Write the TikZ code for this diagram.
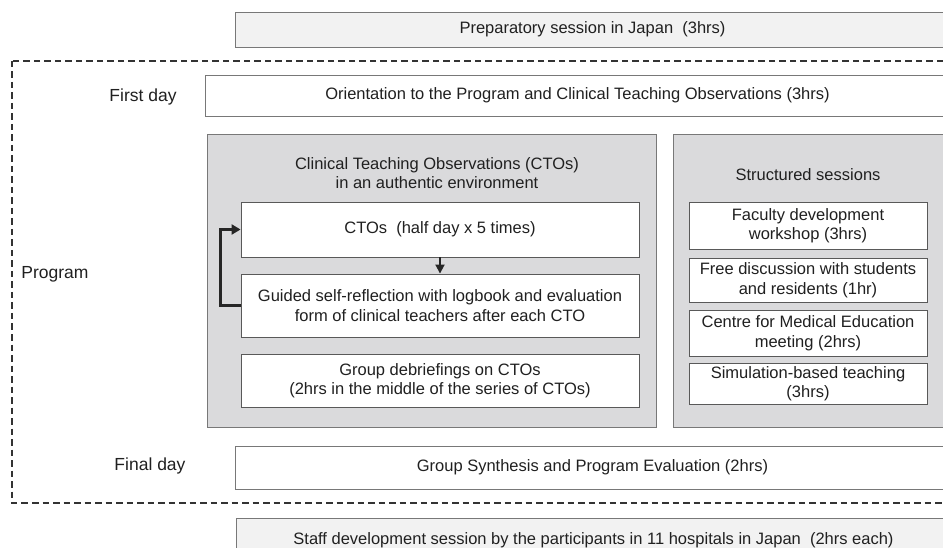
\documentclass[tikz,border=0pt]{standalone}
\usepackage{fontspec}
\setmainfont{Liberation Sans}
\usepackage{tikz}
\usetikzlibrary{arrows.meta}
\definecolor{boxline}{RGB}{120,120,120}
\definecolor{panelgray}{RGB}{218,218,220}
\definecolor{paleink}{RGB}{242,242,242}
\definecolor{textink}{RGB}{32,32,32}

\tikzset{
  outerbox/.style={draw=boxline, fill=paleink, line width=0.9pt, inner sep=0pt},
  daybox/.style={draw=boxline, fill=white, line width=0.9pt, inner sep=0pt},
  panel/.style={draw=boxline, fill=panelgray, line width=0.9pt, inner sep=0pt},
  innerbox/.style={draw=black!65, fill=white, line width=0.9pt, inner sep=0pt, align=center},
  daylabel/.style={font=\fontsize{17.5}{20}\selectfont}
}

\begin{document}
\begin{tikzpicture}[x=1pt, y=-1pt, text=textink,
    font=\fontsize{16.5}{19.5}\selectfont]
  \useasboundingbox (0,0) rectangle (943,548);
  \clip (0,0) rectangle (943,548);

  % before and after the program
  \node[outerbox, minimum width=715pt, minimum height=35pt] (prep) at (592.5,29.5)
    {Preparatory session in Japan~~(3hrs)};
  \node[outerbox, minimum width=715pt, minimum height=45pt] (staff) at (593.5,540.5)
    {Staff development session by the participants in 11 hospitals in Japan~~(2hrs each)};

  % the program itself
  \draw[black!80, line width=1.7pt, dash pattern=on 6.5pt off 4pt] (12,61) rectangle (970,503);
  \node[daylabel] (program) at (55,274) {Program};

  \node[daylabel] (firstday) at (143,97) {First day};
  \node[daybox, minimum width=745pt, minimum height=41pt] (orient) at (577.5,95.5)
    {Orientation to the Program and Clinical Teaching Observations (3hrs)};

  \node[daylabel] (finalday) at (150,466) {Final day};
  \node[daybox, minimum width=715pt, minimum height=43pt] (final) at (592.5,467.5)
    {Group Synthesis and Program Evaluation (2hrs)};

  % clinical teaching observations
  \node[panel, minimum width=449pt, minimum height=293pt] (ctopanel) at (431.5,280.5) {};
  \node[align=center] (ctotitle) at (437,173)
    {Clinical Teaching Observations (CTOs)\\in an authentic environment};
  \node[innerbox, minimum width=398pt, minimum height=55pt] (ctos) at (440,229.5)
    {CTOs~~(half day x 5 times)};
  \node[innerbox, minimum width=398pt, minimum height=63pt] (guided) at (440,305.5)
    {Guided self-reflection with logbook and evaluation\\form of clinical teachers after each CTO};
  \node[innerbox, minimum width=398pt, minimum height=53pt] (debrief) at (440,380.5)
    {Group debriefings on CTOs\\(2hrs in the middle of the series of CTOs)};

  \draw[-{Triangle[length=9pt,width=9pt]}, line width=1.8pt, black!85] (ctos) -- (guided);
  \draw[-{Triangle[length=9pt,width=10pt]}, line width=2.6pt, black!85]
    (guided.west) -- ++(-20,0) |- (ctos.west);

  % structured sessions
  \node[panel, minimum width=297pt, minimum height=293pt] (sessions) at (821.5,280.5) {};
  \node (sesstitle) at (808,175) {Structured sessions};
  \node[innerbox, minimum width=238pt, minimum height=47pt] (faculty) at (808,225.5)
    {Faculty development\\workshop (3hrs)};
  \node[innerbox, minimum width=238pt, minimum height=44pt] (freedisc) at (808,280)
    {Free discussion with students\\and residents (1hr)};
  \node[innerbox, minimum width=238pt, minimum height=46pt] (centre) at (808,333)
    {Centre for Medical Education\\meeting (2hrs)};
  \node[innerbox, minimum width=238pt, minimum height=41pt] (simul) at (808,383.5)
    {Simulation-based teaching\\(3hrs)};
\end{tikzpicture}
\end{document}
